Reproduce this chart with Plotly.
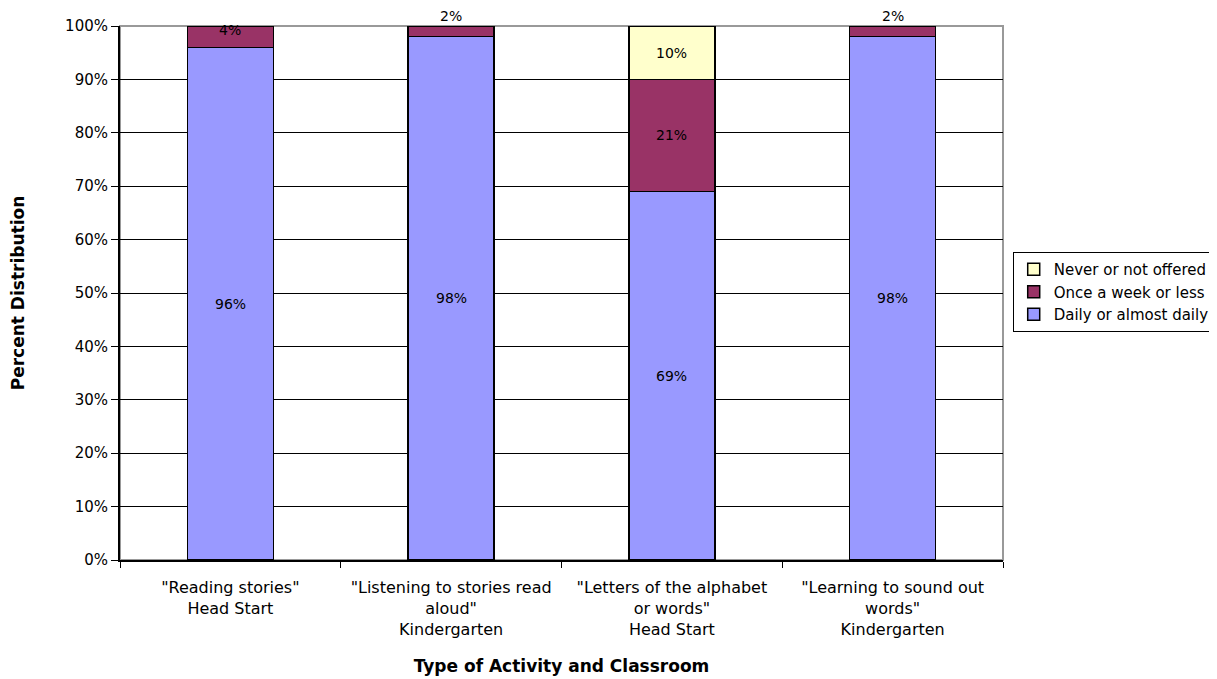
import plotly.graph_objects as go

categories = [
    '"Reading stories"<br>Head Start',
    '"Listening to stories read<br>aloud"<br>Kindergarten',
    '"Letters of the alphabet<br>or words"<br>Head Start',
    '"Learning to sound out<br>words"<br>Kindergarten',
]
daily = [96, 98, 69, 98]
weekly = [4, 2, 21, 2]
never = [0, 0, 10, 0]

series = [
    ("Daily or almost daily", daily, "#9999FF"),
    ("Once a week or less", weekly, "#993366"),
    ("Never or not offered", never, "#FFFFCC"),
]

FONT = "DejaVu Sans, Verdana, sans-serif"

fig = go.Figure()
for name, vals, color in series:
    fig.add_trace(go.Bar(
        x=categories, y=vals, name=name,
        marker=dict(color=color, line=dict(color="black", width=1.5)),
        width=0.39,
    ))

# data labels
annotations = []
for i, cat in enumerate(categories):
    base = 0
    for name, vals, color in series:
        v = vals[i]
        if v > 0:
            yshift = 15 if v < 3 else (7 if v < 5 else 0)
            annotations.append(dict(
                x=cat, y=base + v / 2, text=f"{v}%", showarrow=False,
                xref="x", yref="y", yshift=yshift,
                font=dict(family=FONT, size=14, color="black"),
            ))
        base += v

fig.update_layout(
    barmode="stack",
    width=1217, height=679,
    margin=dict(l=112, r=222, t=18, b=127, autoexpand=False),
    paper_bgcolor="white", plot_bgcolor="white",
    font=dict(family=FONT, size=15, color="black"),
    annotations=annotations,
    showlegend=True,
    legend=dict(
        x=1.011, y=0.502, xanchor="left", yanchor="middle",
        traceorder="reversed",
        bordercolor="black", borderwidth=1, bgcolor="white",
        font=dict(family=FONT, size=15, color="black"),
        itemwidth=30, tracegroupgap=0,
    ),
    shapes=[dict(type="rect", xref="paper", yref="paper", x0=0, x1=1, y0=0, y1=1,
                 line=dict(color="#999999", width=2), layer="between")],
)
fig.update_xaxes(
    showline=True, linecolor="black", linewidth=2,
    ticks="outside", tickson="boundaries", ticklen=6, tickcolor="black",
    ticklabelstandoff=12,
    tickfont=dict(family=FONT, size=16),
    title=dict(text="<b>Type of Activity and Classroom</b>", font=dict(family=FONT, size=17), standoff=22),
    showgrid=False, automargin=False,
)
fig.update_yaxes(
    range=[0, 100], dtick=10, ticksuffix="%",
    showline=True, linecolor="black", linewidth=2,
    ticks="outside", ticklen=7, tickcolor="black",
    showgrid=True, gridcolor="black", gridwidth=1,
    tickfont=dict(family=FONT, size=15),
    title=dict(text="<b>Percent Distribution</b>", font=dict(family=FONT, size=17), standoff=40),
    zeroline=False, automargin=False,
)

fig.write_html("out.html")
